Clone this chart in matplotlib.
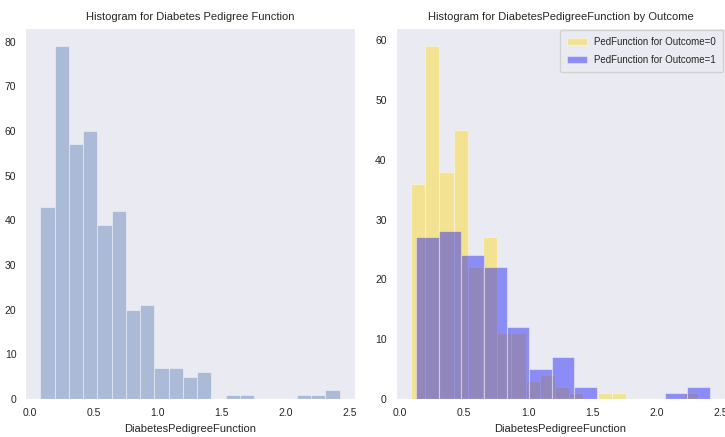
import numpy as np
import matplotlib
matplotlib.use("Agg")
import matplotlib.pyplot as plt
import seaborn as sns

sns.set_style("dark")
plt.rcParams["font.family"] = ["Liberation Sans", "DejaVu Sans"]

# Binned counts of DiabetesPedigreeFunction (all rows, then split by Outcome)
ALL_RANGE = (0.085, 2.42)
ALL_COUNTS = [43, 79, 57, 60, 39, 42, 20, 21, 7, 7, 5, 6, 0, 1, 1, 0, 0, 0, 1, 1, 2]

NEG_RANGE = (0.085, 2.329)
NEG_COUNTS = [36, 59, 38, 45, 22, 27, 11, 11, 3, 4, 2, 1, 0, 1, 1, 0, 0, 0, 0, 1]

POS_RANGE = (0.127, 2.42)
POS_COUNTS = [27, 28, 24, 22, 12, 5, 7, 2, 0, 0, 0, 1, 2]

XTICKS = [0.0, 0.5, 1.0, 1.5, 2.0, 2.5]


def draw_hist(ax, value_range, counts, color, label=None):
    edges = np.linspace(value_range[0], value_range[1], len(counts) + 1)
    ax.hist(edges[:-1], bins=edges, weights=counts, color=color, alpha=0.4,
            edgecolor="white", linewidth=0.8, label=label)


fig, (ax1, ax2) = plt.subplots(1, 2, figsize=(7.25, 4.37), dpi=100)
fig.subplots_adjust(left=0.035, right=1.0, top=0.935, bottom=0.087, wspace=0.125)

draw_hist(ax1, ALL_RANGE, ALL_COUNTS, "#4c72b0")
ax1.set_title("Histogram for Diabetes Pedigree Function", fontsize=8)

draw_hist(ax2, NEG_RANGE, NEG_COUNTS, "gold", label="PedFunction for Outcome=0")
draw_hist(ax2, POS_RANGE, POS_COUNTS, "blue", label="PedFunction for Outcome=1")
ax2.set_title("Histogram for DiabetesPedigreeFunction by Outcome", fontsize=8)
ax2.legend(loc="upper right", fontsize=7, frameon=True, handlelength=2.0,
           labelspacing=0.8, borderpad=0.7, borderaxespad=0.2)

for ax in (ax1, ax2):
    ax.set_xticks(XTICKS)
    ax.set_xlabel("DiabetesPedigreeFunction", fontsize=8)
    ax.tick_params(labelsize=7.5, pad=3)

fig.savefig("out.png", dpi=100)
